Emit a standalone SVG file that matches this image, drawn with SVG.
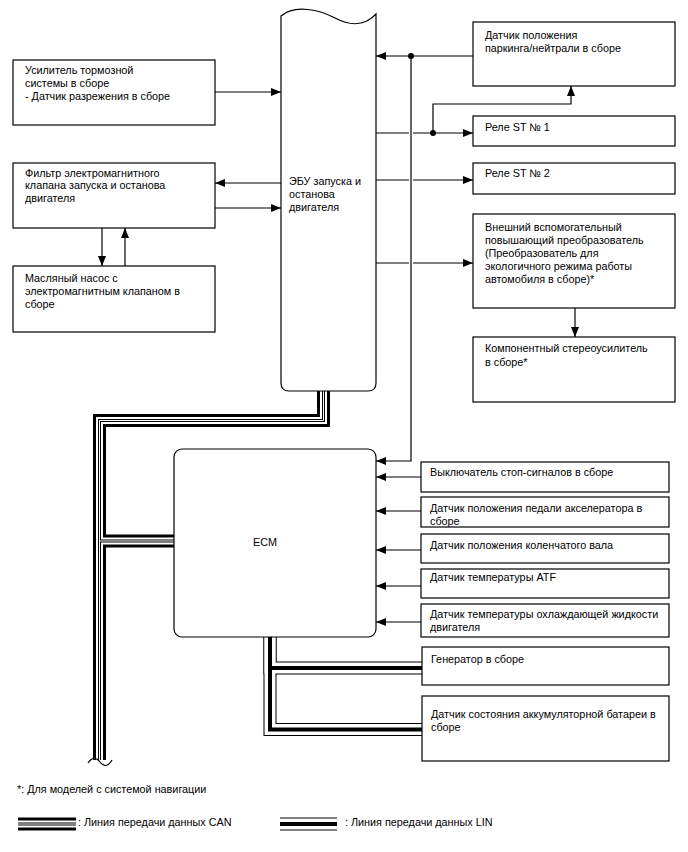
<svg xmlns="http://www.w3.org/2000/svg" xmlns:xlink="http://www.w3.org/1999/xlink" width="688" height="852" viewBox="0 0 688 852">
<style>
text{font-family:"Liberation Sans",Arial,sans-serif;font-size:10.8px;fill:#000}
.box{fill:#fff;stroke:#000;stroke-width:1.2}
.ln{fill:none;stroke:#000;stroke-width:1.2}
.ar{fill:none;stroke:#000;stroke-width:1.2;marker-end:url(#ah)}
.k13{fill:none;stroke:#000;stroke-width:13;stroke-linejoin:miter}
.w7{fill:none;stroke:#fff;stroke-width:7;stroke-linejoin:miter}
.k3{fill:none;stroke:#000;stroke-width:3;stroke-linejoin:miter}
.w1{fill:none;stroke:#fff;stroke-width:1;stroke-linejoin:miter}
.w11{fill:none;stroke:#fff;stroke-width:11;stroke-linejoin:miter}
.k4{fill:none;stroke:#000;stroke-width:4;stroke-linejoin:miter}
</style>
<defs>
<marker id="ah" markerUnits="userSpaceOnUse" markerWidth="10" markerHeight="8" refX="10" refY="4" orient="auto">
<path d="M0,0 L10,4 L0,8 z" fill="#000"/>
</marker>
<path id="canMain" d="M323.5 391 V420.5 H99.5 V760"/>
<path id="canEcm" d="M99.5 541 H174"/>
<path id="linGen" d="M270 637 V668 H422"/>
<path id="linBat" d="M270 637 V729.5 H422"/>
<path id="canLeg" d="M18 824 H76"/>
<path id="linLeg" d="M280 824 H337"/>
</defs>

<g id="connectors">
<!-- CAN bus -->
<use xlink:href="#canMain" class="k13"/><use xlink:href="#canEcm" class="k13"/>
<use xlink:href="#canMain" class="w7"/><use xlink:href="#canEcm" class="w7"/>
<use xlink:href="#canMain" class="k3"/><use xlink:href="#canEcm" class="k3"/>
<use xlink:href="#canMain" class="w1"/><use xlink:href="#canEcm" class="w1"/>
<path class="ln" d="M88 763 C92 757,96 757,100 762 S108 767,112 760"/>
<!-- LIN bus -->
<use xlink:href="#linGen" class="k13"/><use xlink:href="#linBat" class="k13"/>
<use xlink:href="#linGen" class="w11"/><use xlink:href="#linBat" class="w11"/>
<use xlink:href="#linGen" class="k4"/><use xlink:href="#linBat" class="k4"/>

<!-- left side -->
<path class="ar" d="M215 92 H281"/>
<path class="ar" d="M281 183 H215"/>
<path class="ar" d="M215 208 H281"/>
<path class="ar" d="M102 228 V266"/>
<path class="ar" d="M125 266 V228"/>

<!-- right of ECU -->
<path class="ar" d="M473 56 H376"/>
<circle cx="411" cy="56" r="3" fill="#000"/>
<path class="ar" d="M411 56 V461 H376"/>
<path class="ln" d="M376 133 H409"/>
<path class="ar" d="M413 133 H473"/>
<circle cx="433" cy="133" r="3" fill="#000"/>
<path class="ar" d="M433 133 V104 H571 V86"/>
<path class="ln" d="M376 180 H409"/>
<path class="ar" d="M413 180 H473"/>
<path class="ln" d="M376 263 H409"/>
<path class="ar" d="M413 263 H473"/>
<path class="ar" d="M575 308 V337"/>

<!-- ECM inputs -->
<path class="ar" d="M421 477 H376"/>
<path class="ar" d="M421 511 H376"/>
<path class="ar" d="M421 550 H376"/>
<path class="ar" d="M421 586 H376"/>
<path class="ar" d="M421 622 H376"/>
</g>

<g id="ecu">
<path class="box" d="M281 16 C295 4,320 10,335 18 S365 26,376 14 V383 Q376 391 368 391 H289 Q281 391 281 383 Z"/>
<text x="289" y="185">ЭБУ запуска и</text>
<text x="289" y="198">останова</text>
<text x="289" y="211">двигателя</text>
</g>

<g id="brake-booster">
<rect class="box" x="13" y="60" width="202" height="65"/>
<text x="25" y="74">Усилитель тормозной</text>
<text x="25" y="87">системы в сборе</text>
<text x="25" y="100">- Датчик разрежения в сборе</text>
</g>

<g id="filter">
<rect class="box" x="13" y="163" width="202" height="65"/>
<text x="25" y="177">Фильтр электромагнитного</text>
<text x="25" y="189">клапана запуска и останова</text>
<text x="25" y="202">двигателя</text>
</g>

<g id="oil-pump">
<rect class="box" x="13" y="266" width="202" height="66"/>
<text x="25" y="282">Масляный насос с</text>
<text x="25" y="295">электромагнитным клапаном в</text>
<text x="25" y="308">сборе</text>
</g>

<g id="pn-sensor">
<rect class="box" x="473" y="22" width="202" height="64"/>
<text x="485" y="39">Датчик положения</text>
<text x="485" y="52">паркинга/нейтрали в сборе</text>
</g>

<g id="relay1">
<rect class="box" x="473" y="116" width="202" height="30"/>
<text x="485" y="131">Реле ST № 1</text>
</g>

<g id="relay2">
<rect class="box" x="473" y="163" width="202" height="31"/>
<text x="485" y="177">Реле ST № 2</text>
</g>

<g id="converter">
<rect class="box" x="473" y="214" width="202" height="94"/>
<text x="485" y="231">Внешний вспомогательный</text>
<text x="485" y="244">повышающий преобразователь</text>
<text x="485" y="257">(Преобразователь для</text>
<text x="485" y="270">экологичного режима работы</text>
<text x="485" y="283">автомобиля в сборе)*</text>
</g>

<g id="stereo">
<rect class="box" x="473" y="337" width="202" height="65"/>
<text x="485" y="352">Компонентный стереоусилитель</text>
<text x="485" y="366">в сборе*</text>
</g>

<g id="ecm">
<rect class="box" x="174" y="449" width="202" height="188" rx="8" ry="8"/>
<text x="253" y="546">ECM</text>
</g>

<g id="stop-switch">
<rect class="box" x="421" y="462" width="248" height="30"/>
<text x="430" y="476">Выключатель стоп-сигналов в сборе</text>
</g>

<g id="pedal">
<rect class="box" x="421" y="497" width="248" height="30"/>
<text x="430" y="512">Датчик положения педали акселератора в</text>
<text x="430" y="525">сборе</text>
</g>

<g id="crank">
<rect class="box" x="421" y="534" width="248" height="29"/>
<text x="430" y="549">Датчик положения коленчатого вала</text>
</g>

<g id="atf">
<rect class="box" x="421" y="569" width="248" height="29"/>
<text x="430" y="581">Датчик температуры ATF</text>
</g>

<g id="coolant">
<rect class="box" x="421" y="604" width="248" height="33"/>
<text x="430" y="618">Датчик температуры охлаждающей жидкости</text>
<text x="430" y="631">двигателя</text>
</g>

<g id="generator">
<rect class="box" x="422" y="647" width="247" height="38"/>
<text x="431" y="663">Генератор в сборе</text>
</g>

<g id="battery-sensor">
<rect class="box" x="422" y="696" width="247" height="65"/>
<text x="431" y="718">Датчик состояния аккумуляторной батареи в</text>
<text x="431" y="731">сборе</text>
</g>

<g id="legend">
<text x="17" y="793">*: Для моделей с системой навигации</text>
<use xlink:href="#canLeg" class="k13"/>
<use xlink:href="#canLeg" class="w7"/>
<use xlink:href="#canLeg" class="k3"/>
<use xlink:href="#canLeg" class="w1"/>
<text x="78" y="826">: Линия передачи данных CAN</text>
<use xlink:href="#linLeg" class="k13"/>
<use xlink:href="#linLeg" class="w11"/>
<use xlink:href="#linLeg" class="k4"/>
<text x="345" y="826">: Линия передачи данных LIN</text>
</g>
</svg>
